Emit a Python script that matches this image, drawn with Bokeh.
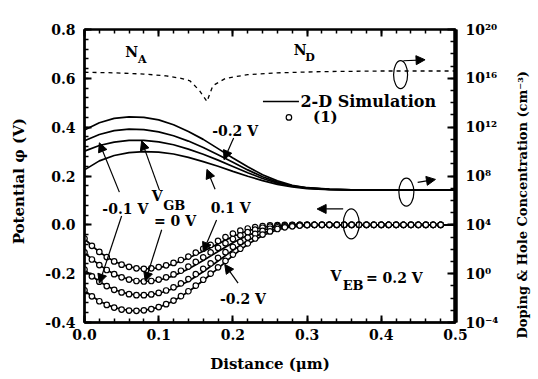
from bokeh.plotting import figure
from bokeh.layouts import row
from bokeh.models import (Range1d, LinearAxis, SingleIntervalTicker, FixedTicker,
                          PrintfTickFormatter, Label, Arrow, NormalHead, Title)
from bokeh.embed import file_html
from bokeh.resources import INLINE

FONT = "DejaVu Serif"

# ---------------- data ----------------
# distance grid of the 2-D simulation curves (um)
sim_x = [0.00, 0.02, 0.04, 0.06, 0.08, 0.10, 0.12, 0.14, 0.16, 0.18, 0.20,
         0.22, 0.24, 0.26, 0.28, 0.30, 0.33, 0.36, 0.40, 0.45, 0.50]

# hole concentration, log10(cm^-3), 2-D simulation, for V_GB = -0.2, -0.1, 0, 0.1 V
hole_m02 = [11.76, 12.36, 12.72, 12.84, 12.80, 12.60, 12.20, 11.64, 11.00, 10.24, 9.48,
            8.76, 8.10, 7.60, 7.24, 7.04, 6.92, 6.86, 6.84, 6.84, 6.84]
hole_m01 = [10.88, 11.40, 11.72, 11.84, 11.80, 11.62, 11.30, 10.86, 10.34, 9.74, 9.12,
            8.50, 7.94, 7.50, 7.20, 7.02, 6.90, 6.86, 6.84, 6.84, 6.84]
hole_000 = [10.04, 10.50, 10.78, 10.92, 10.92, 10.80, 10.56, 10.20, 9.78, 9.30, 8.78,
            8.26, 7.80, 7.42, 7.16, 7.00, 6.90, 6.86, 6.84, 6.84, 6.84]
hole_p01 = [8.50, 9.24, 9.68, 9.92, 10.00, 9.96, 9.80, 9.52, 9.18, 8.80, 8.38,
            7.98, 7.62, 7.32, 7.10, 6.96, 6.88, 6.86, 6.84, 6.84, 6.84]

# potential (V), 2-D simulation
pot_p01 = [-0.058, -0.112, -0.150, -0.172, -0.181, -0.176, -0.160, -0.136, -0.108, -0.078, -0.048,
           -0.024, -0.010, -0.004, -0.001, 0.000, 0.000, 0.000, 0.000, 0.000, 0.000]
pot_000 = [-0.115, -0.165, -0.202, -0.224, -0.232, -0.227, -0.209, -0.181, -0.146, -0.109, -0.073,
           -0.043, -0.021, -0.009, -0.003, -0.001, 0.000, 0.000, 0.000, 0.000, 0.000]
pot_m01 = [-0.185, -0.233, -0.266, -0.284, -0.289, -0.281, -0.261, -0.231, -0.192, -0.148, -0.104,
           -0.064, -0.034, -0.015, -0.006, -0.002, 0.000, 0.000, 0.000, 0.000, 0.000]
pot_m02 = [-0.270, -0.313, -0.339, -0.351, -0.350, -0.338, -0.312, -0.274, -0.228, -0.178, -0.126,
           -0.080, -0.044, -0.020, -0.008, -0.002, 0.000, 0.000, 0.000, 0.000, 0.000]

# potential (V), model (1)
model_x = [0.00, 0.01, 0.02, 0.03, 0.04, 0.05, 0.06, 0.07, 0.08, 0.09,
           0.10, 0.11, 0.12, 0.13, 0.14, 0.15, 0.16, 0.17, 0.18, 0.19,
           0.20, 0.21, 0.22, 0.23, 0.24, 0.25, 0.26, 0.27, 0.28, 0.29,
           0.30, 0.31, 0.32, 0.33, 0.34, 0.35, 0.36, 0.37, 0.38, 0.39,
           0.40, 0.41, 0.42, 0.43, 0.44, 0.45, 0.46, 0.47, 0.48]
model_p01 = [-0.056, -0.086, -0.111, -0.132, -0.150, -0.163, -0.172, -0.178, -0.180, -0.178,
             -0.173, -0.166, -0.156, -0.144, -0.130, -0.114, -0.098, -0.082, -0.066, -0.050,
             -0.036, -0.024, -0.015, -0.009, -0.005, -0.002, -0.001, 0.000, 0.000, 0.000,
             0.000, 0.000, 0.000, 0.000, 0.000, 0.000, 0.000, 0.000, 0.000, 0.000,
             0.000, 0.000, 0.000, 0.000, 0.000, 0.000, 0.000, 0.000, 0.000]
model_000 = [-0.113, -0.142, -0.165, -0.185, -0.202, -0.215, -0.224, -0.230, -0.232, -0.230,
             -0.224, -0.215, -0.203, -0.188, -0.171, -0.152, -0.133, -0.113, -0.094, -0.075,
             -0.058, -0.043, -0.030, -0.020, -0.012, -0.007, -0.004, -0.002, -0.001, 0.000,
             0.000, 0.000, 0.000, 0.000, 0.000, 0.000, 0.000, 0.000, 0.000, 0.000,
             0.000, 0.000, 0.000, 0.000, 0.000, 0.000, 0.000, 0.000, 0.000]
model_m01 = [-0.183, -0.211, -0.233, -0.251, -0.266, -0.277, -0.284, -0.288, -0.288, -0.285,
             -0.279, -0.269, -0.256, -0.240, -0.222, -0.202, -0.180, -0.158, -0.135, -0.112,
             -0.090, -0.070, -0.052, -0.037, -0.025, -0.016, -0.010, -0.006, -0.003, -0.001,
             0.000, 0.000, 0.000, 0.000, 0.000, 0.000, 0.000, 0.000, 0.000, 0.000,
             0.000, 0.000, 0.000, 0.000, 0.000, 0.000, 0.000, 0.000, 0.000]
model_m02 = [-0.268, -0.293, -0.313, -0.328, -0.339, -0.347, -0.351, -0.352, -0.350, -0.345,
             -0.337, -0.325, -0.310, -0.292, -0.272, -0.249, -0.225, -0.200, -0.174, -0.148,
             -0.122, -0.098, -0.076, -0.056, -0.040, -0.027, -0.017, -0.010, -0.006, -0.003,
             -0.001, 0.000, 0.000, 0.000, 0.000, 0.000, 0.000, 0.000, 0.000, 0.000,
             0.000, 0.000, 0.000, 0.000, 0.000, 0.000, 0.000, 0.000, 0.000]

# net doping, log10(cm^-3)
dop_x = [0.00, 0.04, 0.08, 0.11, 0.13, 0.142, 0.155, 0.165, 0.173, 0.19, 0.22, 0.26, 0.32, 0.40, 0.50]
dop_log = [16.5, 16.45, 16.35, 16.2, 16.0, 15.8, 15.0, 14.1, 15.4, 16.0, 16.3, 16.45, 16.55, 16.6, 16.6]

conc_ticks = [-4, 0, 4, 8, 12, 16, 20]
conc_labels = ["10⁻⁴", "10⁰", "10⁴", "10⁸", "10¹²", "10¹⁶", "10²⁰"]

H = 375

# ---------------- figure ----------------
p = figure(width=510, height=H, x_range=Range1d(0, 0.5), y_range=Range1d(-0.4, 0.8),
           output_backend="svg", toolbar_location=None,
           min_border_left=84, min_border_right=55, min_border_top=29, min_border_bottom=50)
p.extra_y_ranges = {"conc": Range1d(-4, 20)}
p.xgrid.visible = False
p.ygrid.visible = False
p.outline_line_color = "black"
p.outline_line_width = 2
p.background_fill_color = None
p.border_fill_color = "white"


def style_axis(ax, lw=2.5):
    ax.axis_line_width = lw
    ax.axis_line_color = "black"
    ax.major_tick_in = 7
    ax.major_tick_out = 0
    ax.minor_tick_in = 4
    ax.minor_tick_out = 0
    ax.major_tick_line_width = 2
    ax.minor_tick_line_width = 1.5
    ax.major_tick_line_color = "black"
    ax.minor_tick_line_color = "black"
    ax.major_label_text_font = FONT
    ax.major_label_text_font_size = "14px"
    ax.major_label_text_font_style = "bold"
    ax.major_label_text_color = "black"
    ax.axis_label_text_font = FONT
    ax.axis_label_text_font_size = "15px"
    ax.axis_label_text_font_style = "bold"
    ax.axis_label_text_color = "black"


xa = p.xaxis[0]
xa.ticker = SingleIntervalTicker(interval=0.1, num_minor_ticks=5)
xa.formatter = PrintfTickFormatter(format="%.1f")
style_axis(xa)
xa.major_label_standoff = 6
xa.axis_label = "Distance (μm)"
xa.axis_label_standoff = 12

ya = p.yaxis[0]
ya.ticker = SingleIntervalTicker(interval=0.2, num_minor_ticks=5)
ya.formatter = PrintfTickFormatter(format="%.1f")
style_axis(ya)
ya.major_label_standoff = 9
ya.axis_label = "Potential  φ  (V)"
ya.axis_label_standoff = 14

top = LinearAxis(ticker=SingleIntervalTicker(interval=0.1, num_minor_ticks=5))
style_axis(top, 2)
top.major_label_text_alpha = 0
top.major_label_text_color = None
top.major_label_standoff = 0
p.add_layout(top, "above")

right = LinearAxis(y_range_name="conc",
                   ticker=FixedTicker(ticks=conc_ticks, minor_ticks=list(range(-4, 21))))
style_axis(right, 4.5)
right.major_label_overrides = {t: s for t, s in zip(conc_ticks, conc_labels)}
right.major_label_standoff = 10
right.major_tick_in = 8
right.minor_tick_in = 5
p.add_layout(right, "right")

# ---------------- glyphs ----------------
p.line(dop_x, dop_log, y_range_name="conc", line_color="black", line_width=1.3, line_dash="4 4")
for h in (hole_m02, hole_m01, hole_000, hole_p01):
    p.line(sim_x, h, y_range_name="conc", line_color="black", line_width=1.7)
for v in (pot_p01, pot_000, pot_m01, pot_m02):
    p.line(sim_x, v, line_color="black", line_width=1.7)
for m in (model_p01, model_000, model_m01, model_m02):
    p.scatter(model_x, m, marker="circle", size=5.5, fill_color="white",
              line_color="black", line_width=1.2)

# legend (drawn by hand, as in the original)
p.line([0.2405, 0.289], [0.505, 0.505], line_color="black", line_width=1.5)
p.scatter([0.2755], [0.44], marker="circle", size=5.5, fill_color="white", line_color="black", line_width=1.2)


def txt(x, y, s, size="14px", align="center"):
    p.add_layout(Label(x=x, y=y, text=s, text_font=FONT, text_font_size=size,
                       text_font_style="bold", text_align=align, text_baseline="middle",
                       text_color="black"))


txt(0.291, 0.505, "2-D Simulation", "16px", "left")
txt(0.308, 0.44, "(1)", "15px", "left")

txt(0.0635, 0.708, "N")
txt(0.078, 0.678, "A", "11px")
txt(0.2905, 0.717, "N")
txt(0.304, 0.684, "D", "11px")

txt(0.203, 0.385, "-0.2 V")
txt(0.055, 0.065, "-0.1 V")
txt(0.098, 0.118, "V")
txt(0.121, 0.078, "GB", "13px")
txt(0.122, 0.016, "= 0 V")
txt(0.197, 0.069, "0.1 V")
txt(0.2135, -0.304, "-0.2 V")
txt(0.339, -0.208, "V")
txt(0.362, -0.247, "EB", "13px")
txt(0.4176, -0.219, "= 0.2 V")

# arrows
arrows = [
    (0.047, 0.134, 0.020, 0.336),
    (0.101, 0.142, 0.077, 0.344),
    (0.176, 0.146, 0.165, 0.227),
    (0.201, 0.356, 0.188, 0.267),
    (0.050, 0.036, 0.020, -0.239),
    (0.104, -0.020, 0.082, -0.231),
    (0.178, 0.020, 0.160, -0.109),
    (0.207, -0.239, 0.189, -0.162),
    (0.4297, 0.672, 0.459, 0.676),
    (0.449, 0.174, 0.473, 0.186),
    (0.3486, 0.065, 0.3135, 0.065),
]
for xs, ys, xe, ye in arrows:
    p.add_layout(Arrow(end=NormalHead(size=9, fill_color="black", line_color="black"),
                       x_start=xs, y_start=ys, x_end=xe, y_end=ye,
                       line_color="black", line_width=1.2))

# ellipses marking which curves belong to which axis
p.ellipse(x=[0.426, 0.4338, 0.3595], y=[0.615, 0.134, 0.004], width=[14, 15, 16], height=[28, 28, 30],
          width_units="screen", height_units="screen", fill_color=None, line_color="black", line_width=1.2)

# ---------------- right-hand axis title (reads bottom to top) ----------------
p2 = figure(width=28, height=H, output_backend="svg", toolbar_location=None,
            x_axis_type=None, y_axis_type=None,
            min_border_left=0, min_border_right=0, min_border_top=29, min_border_bottom=20)
p2.outline_line_color = None
p2.xgrid.visible = False
p2.ygrid.visible = False
p2.background_fill_color = None
p2.border_fill_color = "white"
p2.add_layout(Title(text="Doping & Hole Concentration (cm⁻³)", align="left", offset=-16,
                    text_font=FONT, text_font_size="13px", text_font_style="bold",
                    text_color="black", standoff=4), "left")

layout = row(p, p2)
open("out.html", "w").write(file_html(layout, INLINE))
